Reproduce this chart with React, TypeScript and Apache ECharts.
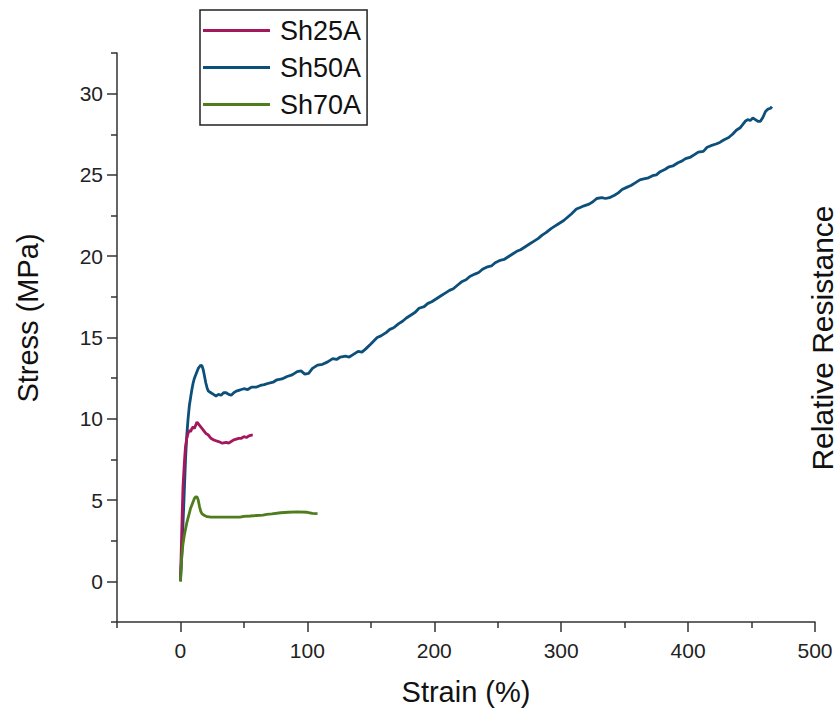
import React, { useEffect, useRef } from "react";
import * as echarts from "echarts";

const seriesNames = ["Sh25A", "Sh50A", "Sh70A"];
const seriesColors = ["#A3185D", "#0C4F7A", "#4F7C1C"];

const sh25Strain = [0, 0.5, 1, 1.5, 2, 2.5, 3, 3.5, 4, 5, 6, 7, 8, 9, 10, 11, 12, 13, 14, 15, 16, 18, 20, 22, 24, 26, 28, 30, 33, 36, 38, 40, 42, 44, 46, 48, 50, 52, 54, 56, 57];
const sh25Stress = [0.3, 1.5, 3, 4.5, 5.8, 6.5, 7.2, 7.8, 8.3, 8.8, 9.1, 9.3, 9.2, 9.4, 9.5, 9.4, 9.6, 9.8, 9.7, 9.6, 9.5, 9.3, 9.1, 9.0, 8.8, 8.7, 8.65, 8.6, 8.5, 8.55, 8.5, 8.6, 8.7, 8.75, 8.8, 8.8, 8.9, 8.85, 8.95, 9.0, 9.0];

const sh50Strain = [0, 1, 2, 3, 4, 5, 6, 7, 8, 9, 10, 11, 12, 13, 14, 15, 16, 17, 18, 19, 20, 21, 22, 24, 26, 28, 30, 32, 34, 36, 38, 40, 42, 44, 46, 48, 50, 53, 56, 60, 63, 66, 70, 73, 76, 80, 84, 88, 92, 95, 98, 101, 104, 108, 112, 116, 120, 123, 126, 130, 133, 136, 140, 143, 146, 150, 155, 158, 162, 165, 168, 172, 175, 178, 182, 185, 188, 192, 195, 198, 202, 205, 208, 212, 215, 218, 222, 225, 228, 232, 235, 238, 242, 245, 248, 252, 255, 258, 262, 265, 268, 272, 275, 278, 282, 285, 288, 292, 295, 298, 302, 305, 308, 312, 315, 318, 322, 325, 328, 332, 335, 338, 342, 345, 348, 352, 355, 358, 362, 365, 368, 372, 375, 378, 382, 385, 388, 392, 395, 398, 402, 405, 408, 412, 415, 418, 422, 425, 428, 432, 435, 438, 441, 443, 445, 447, 449, 451, 453, 455, 457, 459, 461, 463, 465, 466];
const sh50Stress = [0, 1.5, 3.5, 5.5, 7.5, 9, 10, 10.8, 11.3, 11.8, 12.2, 12.5, 12.7, 12.9, 13.1, 13.2, 13.3, 13.25, 13.0, 12.6, 12.2, 11.9, 11.7, 11.6, 11.5, 11.4, 11.5, 11.45, 11.6, 11.6, 11.5, 11.45, 11.6, 11.7, 11.75, 11.8, 11.85, 11.8, 11.95, 11.95, 12.05, 12.1, 12.2, 12.25, 12.4, 12.45, 12.6, 12.7, 12.9, 12.95, 12.75, 12.8, 13.1, 13.3, 13.35, 13.5, 13.7, 13.65, 13.8, 13.85, 13.8, 13.95, 14.15, 14.1, 14.3, 14.6, 15.0, 15.1, 15.3, 15.5, 15.6, 15.85, 16.0, 16.2, 16.4, 16.55, 16.8, 16.9, 17.1, 17.2, 17.4, 17.55, 17.7, 17.9, 18.0, 18.2, 18.45, 18.55, 18.75, 18.9, 19.0, 19.2, 19.35, 19.4, 19.6, 19.75, 19.8, 19.95, 20.15, 20.3, 20.4, 20.6, 20.75, 20.9, 21.1, 21.3, 21.45, 21.7, 21.85, 22.0, 22.2, 22.4, 22.6, 22.9, 23.0, 23.1, 23.2, 23.35, 23.55, 23.6, 23.55, 23.6, 23.75, 23.9, 24.1, 24.25, 24.35, 24.5, 24.7, 24.75, 24.8, 24.95, 25.0, 25.2, 25.35, 25.5, 25.55, 25.75, 25.85, 26.0, 26.1, 26.25, 26.4, 26.45, 26.7, 26.8, 26.9, 27.0, 27.15, 27.3, 27.5, 27.75, 27.9, 28.1, 28.3, 28.4, 28.35, 28.5, 28.4, 28.3, 28.3, 28.55, 28.9, 29.05, 29.1, 29.2, 29.45, 29.3];

const sh70Strain = [0, 0.5, 1, 2, 3, 4, 5, 6, 7, 8, 9, 10, 11, 12, 13, 14, 15, 16, 17, 19, 21, 24, 30, 40, 47, 50, 55, 60, 65, 68, 72, 79, 85, 92, 100, 104, 108];
const sh70Stress = [0, 0.8, 1.5, 2.3, 2.8, 3.2, 3.6, 3.9, 4.2, 4.5, 4.7, 4.9, 5.1, 5.2, 5.2, 5.0, 4.6, 4.3, 4.15, 4.05, 3.98, 3.95, 3.95, 3.95, 3.95, 4.0, 4.02, 4.05, 4.08, 4.12, 4.15, 4.22, 4.25, 4.27, 4.25, 4.18, 4.17];

const xMajorTicks = [0, 100, 200, 300, 400, 500];
const xMinorTicks = [-50, 50, 150, 250, 350, 450];
const yMajorTicks = [0, 5, 10, 15, 20, 25, 30];
const yMinorTicks = [-2.5, 2.5, 7.5, 12.5, 17.5, 22.5, 27.5, 32.5];

const xLabel = "Strain (%)";
const yLabel = "Stress (MPa)";
const yRightLabel = "Relative Resistance";

const FONT = "'Liberation Sans', Arial, sans-serif";
const AXIS_COLOR = "#333333";

function pairs(xs: number[], ys: number[]) {
  return xs.map((x, i) => [x, ys[i]]);
}

export default function App() {
  const ref = useRef<HTMLDivElement>(null);
  useEffect(() => {
    if (!ref.current) return;
    const chart = echarts.init(ref.current, undefined, { renderer: "svg" });
    const baseAxis = {
      type: "value" as const,
      splitLine: { show: false },
    };
    chart.setOption({
      animation: false,
      backgroundColor: "#ffffff",
      textStyle: { fontFamily: FONT },
      grid: { left: 117, top: 53, right: 23, bottom: 89, containLabel: false },
      legend: {
        orient: "vertical",
        left: 200,
        top: 10,
        data: seriesNames,
        icon: "rect",
        itemWidth: 67,
        itemHeight: 3,
        itemGap: 10,
        padding: [7, 6, 7, 3],
        borderColor: "#222222",
        borderWidth: 1.5,
        borderRadius: 0,
        backgroundColor: "#ffffff",
        textStyle: {
          fontFamily: FONT,
          fontSize: 27,
          lineHeight: 26,
          color: "#111111",
          padding: [0, 0, 0, 5],
        },
      },
      xAxis: [
        {
          ...baseAxis,
          min: -50,
          max: 500,
          axisLine: { show: true, onZero: false, lineStyle: { color: AXIS_COLOR, width: 1.5 } },
          axisTick: { show: true, length: 10, inside: false, customValues: xMajorTicks, lineStyle: { color: AXIS_COLOR, width: 1.5 } },
          axisLabel: { show: true, customValues: xMajorTicks, fontSize: 21, color: "#222222", margin: 18, fontFamily: FONT },
        },
        {
          ...baseAxis,
          min: -50,
          max: 500,
          position: "bottom",
          axisLine: { show: false, onZero: false },
          axisTick: { show: true, length: 6, customValues: xMinorTicks, lineStyle: { color: AXIS_COLOR, width: 1.5 } },
          axisLabel: { show: false },
        },
      ],
      yAxis: [
        {
          ...baseAxis,
          min: -2.5,
          max: 32.5,
          axisLine: { show: true, onZero: false, lineStyle: { color: AXIS_COLOR, width: 1.5 } },
          axisTick: { show: true, length: 10, customValues: yMajorTicks, lineStyle: { color: AXIS_COLOR, width: 1.5 } },
          axisLabel: { show: true, customValues: yMajorTicks, fontSize: 21, color: "#222222", margin: 14, fontFamily: FONT },
        },
        {
          ...baseAxis,
          min: -2.5,
          max: 32.5,
          position: "left",
          axisLine: { show: false, onZero: false },
          axisTick: { show: true, length: 6, customValues: yMinorTicks, lineStyle: { color: AXIS_COLOR, width: 1.5 } },
          axisLabel: { show: false },
        },
      ],
      graphic: [
        {
          type: "text",
          x: 466,
          y: 692,
          style: { text: xLabel, font: `29px ${FONT}`, fill: "#111111", align: "center", verticalAlign: "middle" },
        },
        {
          type: "text",
          x: 28,
          y: 318,
          rotation: Math.PI / 2,
          style: { text: yLabel, font: `29px ${FONT}`, fill: "#111111", align: "center", verticalAlign: "middle" },
        },
        {
          type: "text",
          x: 822,
          y: 338,
          rotation: Math.PI / 2,
          style: { text: yRightLabel, font: `30px ${FONT}`, fill: "#111111", align: "center", verticalAlign: "middle" },
        },
      ],
      series: [
        { name: seriesNames[0], type: "line", data: pairs(sh25Strain, sh25Stress), showSymbol: false, symbol: "none", lineStyle: { width: 2.8, color: seriesColors[0] }, itemStyle: { color: seriesColors[0] }, z: 3 },
        { name: seriesNames[1], type: "line", data: pairs(sh50Strain, sh50Stress), showSymbol: false, symbol: "none", lineStyle: { width: 2.8, color: seriesColors[1] }, itemStyle: { color: seriesColors[1] }, z: 2 },
        { name: seriesNames[2], type: "line", data: pairs(sh70Strain, sh70Stress), showSymbol: false, symbol: "none", lineStyle: { width: 2.8, color: seriesColors[2] }, itemStyle: { color: seriesColors[2] }, z: 4 },
      ],
    });
    return () => chart.dispose();
  }, []);
  return (
    <div
      ref={ref}
      style={{ position: "absolute", left: 0, top: 0, width: 838, height: 711 }}
    />
  );
}
